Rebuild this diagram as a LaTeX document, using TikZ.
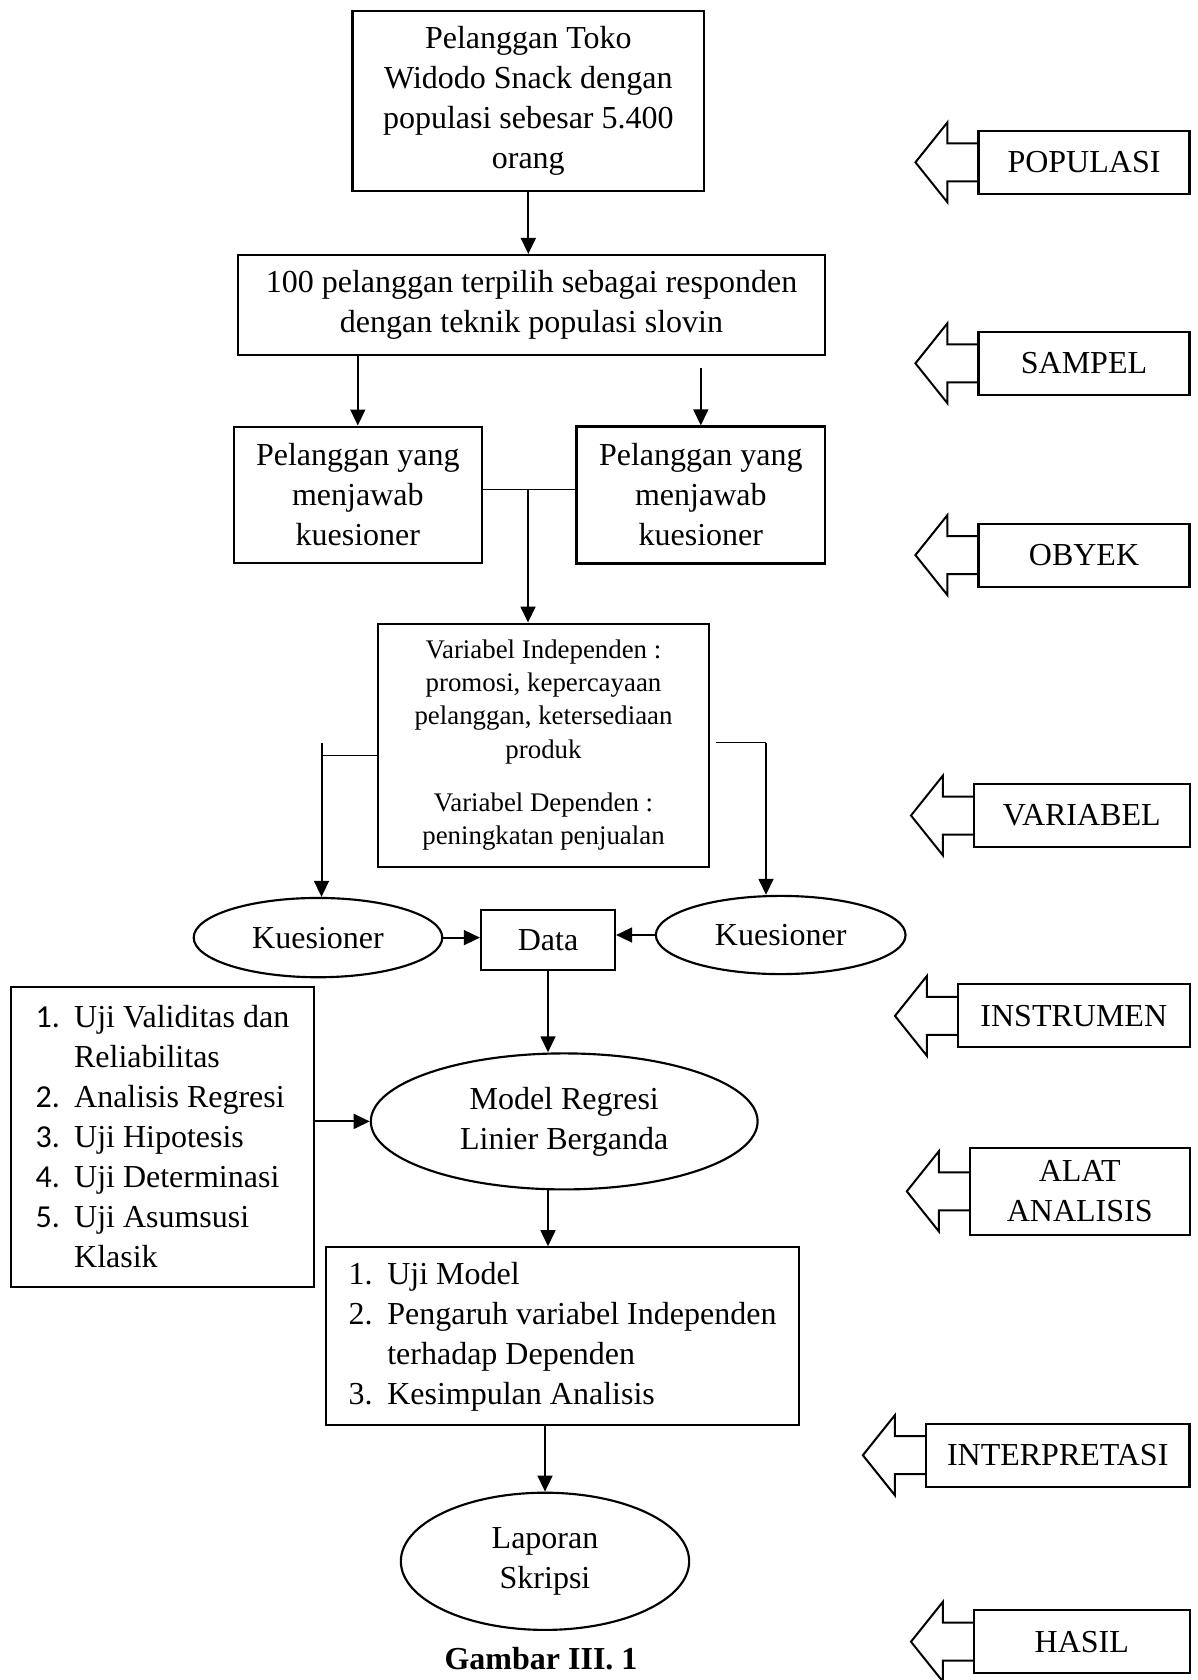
\documentclass[tikz,border=0pt]{standalone}
\usepackage{fontspec}
\setmainfont{Liberation Serif}
\newfontfamily\numfont{Carlito}
\usepackage{tikz}
\usetikzlibrary{arrows.meta,positioning,shapes.geometric}
\newlength\px
\setlength\px{0.35pt}
\newcommand\bodysize{\fontsize{11.2}{14}\selectfont}
\newcommand\smallsize{\fontsize{9.4}{11.6}\selectfont}
\newcommand\numitem[1]{\makebox[13.5pt][l]{#1}}
\newcommand\numgap{\hspace*{13.5pt}}
\tikzset{
  box/.style={
    rectangle,
    draw,
    line width=0.75pt,
    align=center,
    inner sep=0pt,
    font=\bodysize
  },
  oval/.style={
    ellipse,
    draw,
    line width=0.75pt,
    align=center,
    inner sep=0pt,
    font=\bodysize
  },
  listbox/.style={
    box,
    align=left
  },
  sidebox/.style={
    box,
    fill=white,
    minimum height=63\px
  },
  pointer/.style={line width=0.7pt, line join=miter},
  link/.style={line width=0.45pt},
  arrow/.style={-{Triangle[length=5.6pt,width=5.2pt]}, line width=0.7pt}
}

\begin{document}
\begin{tikzpicture}[x=0.35pt, y=-0.35pt]
    \useasboundingbox (0,0) rectangle (1197,1680);

    \node[box, minimum width=351.5\px, minimum height=180\px] (populasi) at (528.3,100.7)
        {Pelanggan Toko\\Widodo Snack dengan\\populasi sebesar 5.400\\orang};
    \node[box, minimum width=587\px, minimum height=99.7\px] (sampel) at (531.5,304.9)
        {100 pelanggan terpilih sebagai responden\\dengan teknik populasi slovin};
    \node[box, minimum width=248.4\px, minimum height=136\px] (obyekL) at (357.8,494.6)
        {Pelanggan yang\\menjawab\\kuesioner};
    \node[box, minimum width=248.5\px, minimum height=137\px] (obyekR) at (700.8,495)
        {Pelanggan yang\\menjawab\\kuesioner};
    \node[box, font=\smallsize, minimum width=331\px, minimum height=243.3\px] (variabel) at (543.5,745.3)
        {Variabel Independen :\\promosi, kepercayaan\\pelanggan, ketersediaan\\produk\\[7.2pt]Variabel Dependen :\\peningkatan penjualan};
    \node[oval, minimum width=248.6\px, minimum height=79.3\px] (kuesL) at (318,937.6) {Kuesioner};
    \node[box, minimum width=134\px, minimum height=60\px] (data) at (548,939.8) {Data};
    \node[oval, minimum width=249.7\px, minimum height=78.2\px] (kuesR) at (780.7,935) {Kuesioner};
    \node[oval, minimum width=386.8\px, minimum height=136\px] (model) at (564.2,1121.4)
        {Model Regresi\\Linier Berganda};
    \node[listbox, minimum width=303\px, minimum height=300\px] (uji) at (162.4,1137)
        {\numitem{\numfont 1.}Uji Validitas dan\\\numgap Reliabilitas\\\numitem{\numfont 2.}Analisis Regresi\\\numitem{\numfont 3.}Uji Hipotesis\\\numitem{\numfont 4.}Uji Determinasi\\\numitem{\numfont 5.}Uji Asumsusi\\\numgap Klasik};
    \node[listbox, minimum width=473.6\px, minimum height=178\px] (simpulan) at (562.6,1336.3)
        {\numitem{1.}Uji Model\\\numitem{2.}Pengaruh variabel Independen\\\numgap terhadap Dependen\\\numitem{3.}Kesimpulan Analisis};
    \node[oval, minimum width=288.3\px, minimum height=137.2\px] (laporan) at (545,1561.3)
        {Laporan\\Skripsi};
    \node[font=\bodysize\bfseries, inner sep=0pt] (judul) at (541,1659) {Gambar III. 1};

    \node[sidebox, minimum width=211\px] (sPopulasi) at (1084,162.3) {POPULASI};
    \node[sidebox, minimum width=211\px] (sSampel) at (1084,363.3) {SAMPEL};
    \node[sidebox, minimum width=211\px] (sObyek) at (1084,555.1) {OBYEK};
    \node[sidebox, minimum width=215.5\px] (sVariabel) at (1081.8,815.5) {VARIABEL};
    \node[sidebox, minimum width=231.5\px] (sInstrumen) at (1073.8,1015.9) {INSTRUMEN};
    \node[sidebox, minimum width=219.7\px, minimum height=87\px] (sAlat) at (1079.7,1191.3) {ALAT\\ANALISIS};
    \node[sidebox, minimum width=263.6\px] (sInterpretasi) at (1057.7,1455.2) {INTERPRETASI};
    \node[sidebox, minimum width=215.5\px] (sHasil) at (1081.8,1641.7) {HASIL};

    \draw[pointer] (sPopulasi.west) ++(0,-19) -- ++(-30,0) -- ++(0,-21) -- ++(-32,40) -- ++(32,40) -- ++(0,-21) -- ++(30,0);
    \draw[pointer] (sSampel.west) ++(0,-19) -- ++(-30,0) -- ++(0,-21) -- ++(-32,40) -- ++(32,40) -- ++(0,-21) -- ++(30,0);
    \draw[pointer] (sObyek.west) ++(0,-19) -- ++(-30,0) -- ++(0,-21) -- ++(-32,40) -- ++(32,40) -- ++(0,-21) -- ++(30,0);
    \draw[pointer] (sVariabel.west) ++(0,-19) -- ++(-30,0) -- ++(0,-21) -- ++(-32,40) -- ++(32,40) -- ++(0,-21) -- ++(30,0);
    \draw[pointer] (sInstrumen.west) ++(0,-19) -- ++(-30,0) -- ++(0,-21) -- ++(-32,40) -- ++(32,40) -- ++(0,-21) -- ++(30,0);
    \draw[pointer] (sAlat.west) ++(0,-19) -- ++(-30,0) -- ++(0,-21) -- ++(-32,40) -- ++(32,40) -- ++(0,-21) -- ++(30,0);
    \draw[pointer] (sInterpretasi.west) ++(0,-19) -- ++(-30,0) -- ++(0,-21) -- ++(-32,40) -- ++(32,40) -- ++(0,-21) -- ++(30,0);
    \draw[pointer] (sHasil.west) ++(0,-19) -- ++(-30,0) -- ++(0,-21) -- ++(-32,40) -- ++(32,40) -- ++(0,-21) -- ++(30,0);

    \coordinate (join) at (528,489.7);
    \coordinate (kiri) at (321.5,755.5);
    \coordinate (kanan) at (766,742.6);

    \draw[arrow] (populasi.south) -- (populasi.south |- sampel.north);
    \draw[arrow] (obyekL.north |- sampel.south) -- (obyekL.north);
    \draw[arrow] ([yshift=-4.4pt]obyekR.north |- sampel.south) -- (obyekR.north);
    \draw[link] (obyekL.east |- join) -- (obyekR.west |- join);
    \draw[arrow] (join) -- (join |- variabel.north);
    \draw[link] (variabel.west |- kiri) -- (kiri);
    \draw[arrow] ([yshift=4.5pt]kiri) -- (kiri |- kuesL.north);
    \draw[link] ([xshift=2pt]variabel.east |- kanan) -- (kanan);
    \draw[arrow] (kanan) -- (kanan |- kuesR.north);
    \draw[arrow] (kuesL.east) -- (kuesL.east -| data.west);
    \draw[arrow] (kuesR.west) -- (kuesR.west -| data.east);
    \draw[arrow] (data.south) -- (data.south |- model.north);
    \draw[arrow] (uji.east |- model.west) -- (model.west);
    \draw[arrow] (model.south -| data.south) -- (simpulan.north -| data.south);
    \draw[arrow] (simpulan.south -| laporan.north) -- (laporan.north);
\end{tikzpicture}
\end{document}
